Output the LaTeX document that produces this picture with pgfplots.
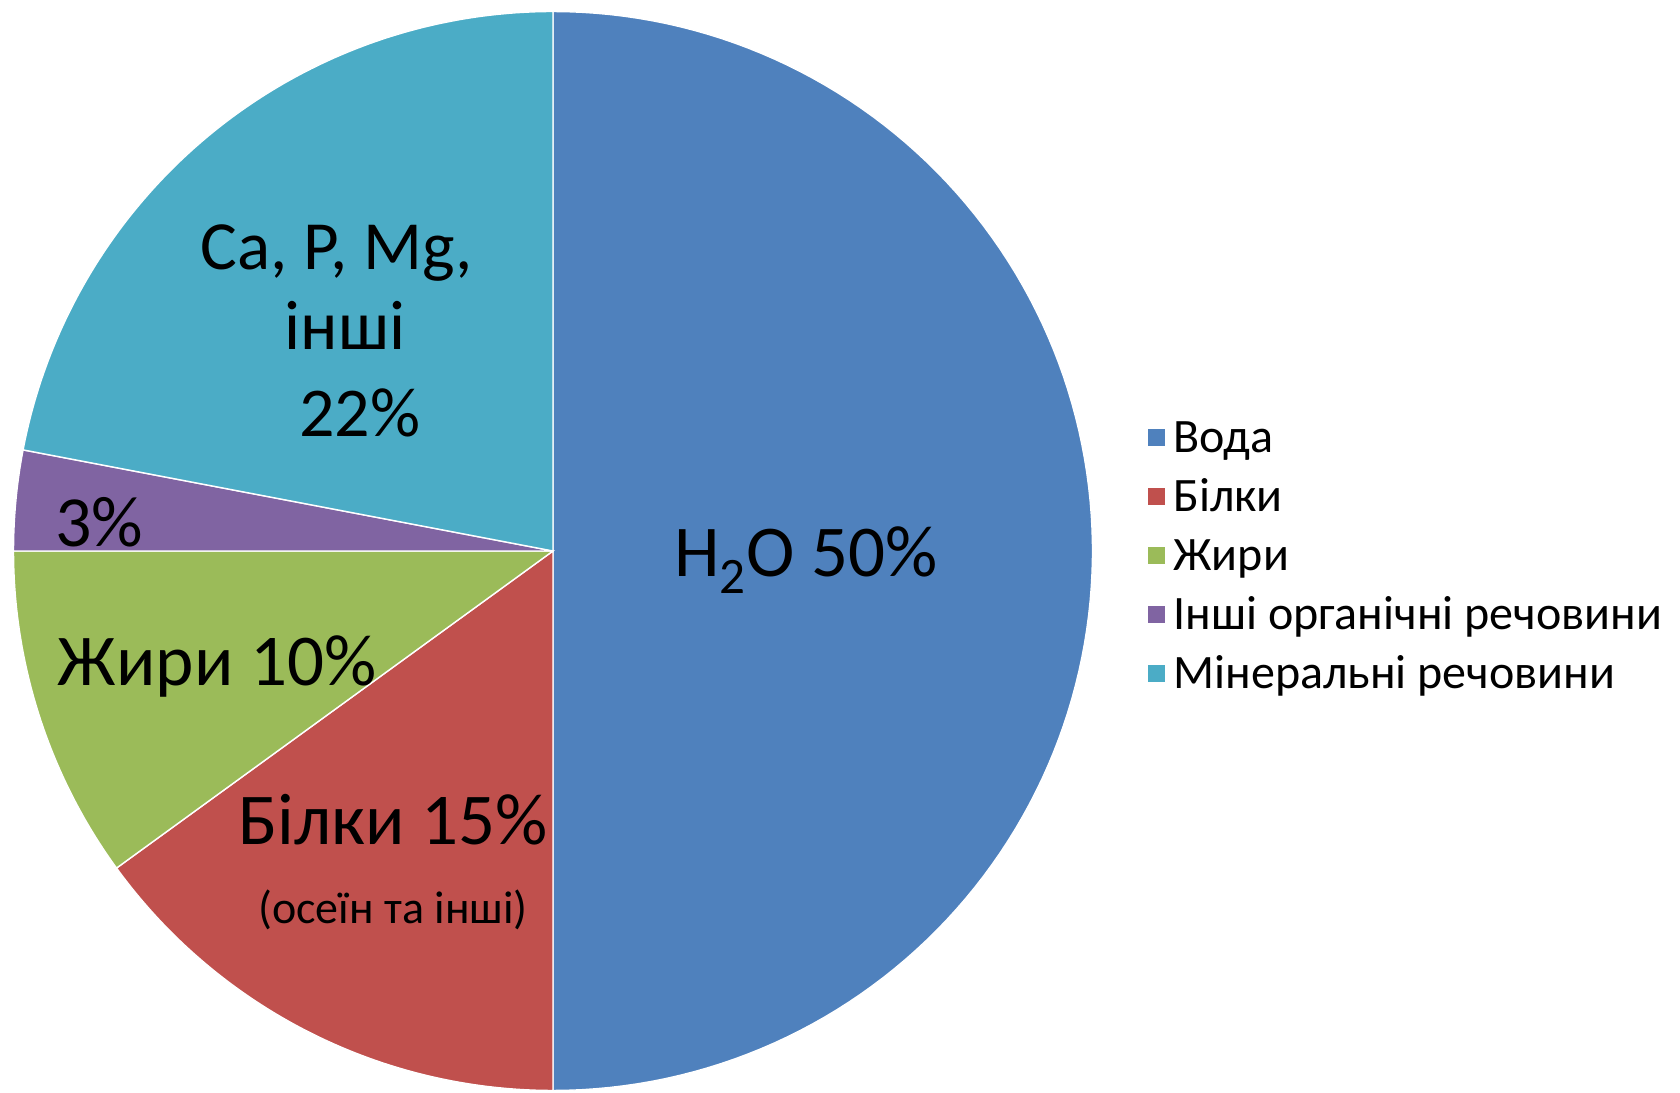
\documentclass[border=0pt]{standalone}
\usepackage{fontspec}
\setmainfont{Carlito}
\usepackage{pgfplots}
\pgfplotsset{compat=1.18}
\definecolor{cA}{HTML}{4F81BD}
\definecolor{cB}{HTML}{C0504D}
\definecolor{cC}{HTML}{9BBB59}
\definecolor{cD}{HTML}{8064A2}
\definecolor{cE}{HTML}{4BACC6}
% values (percent)
\def\vA{50}\def\vB{15}\def\vC{10}\def\vD{3}\def\vE{22}
\def\cx{553}\def\cy{541}\def\R{539.5}
\pgfmathsetmacro{\aZ}{90}
\pgfmathsetmacro{\aA}{\aZ-3.6*\vA}
\pgfmathsetmacro{\aB}{\aA-3.6*\vB}
\pgfmathsetmacro{\aC}{\aB-3.6*\vC}
\pgfmathsetmacro{\aD}{\aC-3.6*\vD}
\pgfmathsetmacro{\aE}{\aD-3.6*\vE}
\begin{document}
\begin{tikzpicture}
\begin{axis}[
  x=0.5pt, y=0.5pt, xmin=0, xmax=1680, ymin=0, ymax=1092,
  scale only axis, hide axis, clip=false,
  legend image code/.code={\fill[#1, draw=none] (0pt,-2.8pt) rectangle (8.5pt,5.7pt);},
  legend cell align=left,
  legend style={at={(axis cs:1148,674)}, anchor=north west, draw=none, fill=none,
    inner sep=0pt, row sep=7.5pt, column sep=4pt, font=\fontsize{24}{29}\selectfont,
    nodes={inner sep=0pt, text height=17pt, text depth=5pt}},
  every axis plot/.append style={draw=white, line width=0.7pt, samples=120, variable=\t},
]
\addplot[draw=none, forget plot] coordinates {(0,0) (1680,1092)};
\addplot[fill=cA, domain=\aA:\aZ] ({\cx+\R*cos(\t)},{\cy+\R*sin(\t)}) -- (\cx,\cy) -- cycle;
\addlegendentry{Вода}
\addplot[fill=cB, domain=\aB:\aA] ({\cx+\R*cos(\t)},{\cy+\R*sin(\t)}) -- (\cx,\cy) -- cycle;
\addlegendentry{Білки}
\addplot[fill=cC, domain=\aC:\aB] ({\cx+\R*cos(\t)},{\cy+\R*sin(\t)}) -- (\cx,\cy) -- cycle;
\addlegendentry{Жири}
\addplot[fill=cD, domain=\aD:\aC] ({\cx+\R*cos(\t)},{\cy+\R*sin(\t)}) -- (\cx,\cy) -- cycle;
\addlegendentry{Інші органічні речовини}
\addplot[fill=cE, domain=\aE:\aD] ({\cx+\R*cos(\t)},{\cy+\R*sin(\t)}) -- (\cx,\cy) -- cycle;
\addlegendentry{Мінеральні речовини}
\node[anchor=base, font=\fontsize{36.5}{42}\selectfont] at (axis cs:806,515) {H\textsubscript{2}O 50\%};
\node[anchor=base, font=\fontsize{34.5}{42}\selectfont] at (axis cs:337,822) {Ca, P, Mg,};
\node[anchor=base, font=\fontsize{35}{42}\selectfont] at (axis cs:345,742) {інші};
\node[anchor=base, font=\fontsize{35}{42}\selectfont] at (axis cs:360,655) {22\%};
\node[anchor=base, font=\fontsize{36}{42}\selectfont] at (axis cs:99,545) {3\%};
\node[anchor=base, font=\fontsize{36.5}{42}\selectfont] at (axis cs:217,406) {Жири 10\%};
\node[anchor=base, font=\fontsize{36.5}{42}\selectfont] at (axis cs:393,247) {Білки 15\%};
\node[anchor=base, font=\fontsize{23}{27}\selectfont] at (axis cs:393,169) {(осеїн та інші)};
\end{axis}
\end{tikzpicture}
\end{document}
